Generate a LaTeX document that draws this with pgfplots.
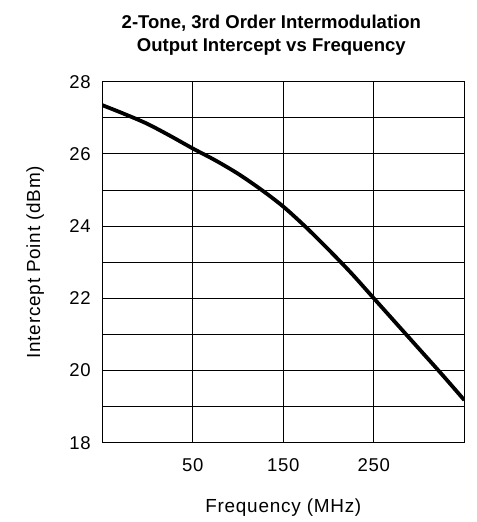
\documentclass[border=0pt]{standalone}
\usepackage{pgfplots}
\pgfplotsset{compat=1.18}
\usepackage{fontspec}
\setmainfont{Liberation Sans}
\newfontfamily\labelfont[LetterSpace=4]{Liberation Sans}

\begin{document}
\begin{tikzpicture}
  \begin{axis}[name=ax,
        scale only axis,
        width=362bp,
        height=361bp,
        xmin=-50, xmax=350,
        ymin=18, ymax=28,
        xtick={50,150,250},
        ytick={18,20,...,28},
        minor ytick={19,21,...,27},
        grid=both,
        major grid style={black, line width=0.9bp},
        minor grid style={black, line width=0.9bp},
        axis line style={line width=1.4bp},
        major tick length=0pt,
        minor tick length=0pt,
        /pgf/number format/assume math mode=true,
        tick label style={font=\labelfont\fontsize{18.6}{22}\selectfont},
        yticklabel style={xshift=-8bp},
        xticklabel style={yshift=-12bp},
        xlabel={Frequency (MHz)},
        ylabel={Intercept Point (dBm)},
        label style={font=\labelfont\fontsize{19}{22}\selectfont},
        xlabel style={at={(axis description cs:0.5,-0.1947)}, anchor=base},
        ylabel style={at={(axis description cs:-0.172,0.5)}, anchor=base},
        title={\textbf{2-Tone, 3rd Order Intermodulation}\\\textbf{Output Intercept vs Frequency}},
        title style={font=\fontsize{18.6}{23.4}\selectfont, align=center,
                     at={(axis description cs:0.467,1)}, anchor=south, yshift=17bp},
        ]
    \addplot [black, line width=3.8bp, smooth] coordinates {
      (-50,27.35) (-25,27.10) (0,26.83) (25,26.50) (50,26.15) (75,25.82)
      (100,25.45) (125,25.02) (150,24.54) (175,23.97) (200,23.35) (225,22.70)
      (250,22.00) (275,21.30) (300,20.60) (325,19.90) (350,19.18)};
  \end{axis}
  \pgfresetboundingbox
  \path (ax.south west) ++(-102.3bp,-79.3bp) rectangle ++(477bp,522bp);
\end{tikzpicture}
\end{document}
